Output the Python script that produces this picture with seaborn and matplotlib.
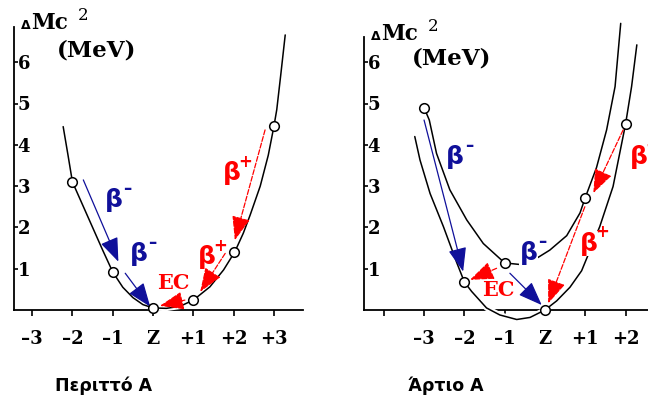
import matplotlib
matplotlib.use("Agg")
import matplotlib.pyplot as plt
import matplotlib.patheffects as pe
import pandas as pd
import seaborn as sns

sns.set_style("white")
plt.rcParams["font.family"] = ["DejaVu Serif", "DejaVu Sans"]
plt.rcParams["font.weight"] = "bold"
plt.rcParams["text.color"] = "black"
plt.rcParams["xtick.color"] = "black"
plt.rcParams["ytick.color"] = "black"
plt.rcParams["axes.labelcolor"] = "black"

# ---------------- data: odd A (left panel) ----------------
odd_z = [-2, -1, 0, 1, 2, 3]
odd_mass = [3.10, 0.92, 0.05, 0.24, 1.40, 4.45]
odd_curve_x = [-2.23, -2.11, -2.0, -1.75, -1.5, -1.25, -1.0, -0.75, -0.5, -0.25, 0.0,
               0.33, 0.67, 1.0, 1.41, 1.75, 2.03, 2.24, 2.41, 2.66, 2.86, 3.0, 3.07, 3.17, 3.28]
odd_curve_y = [4.44, 3.75, 3.10, 2.55, 2.0, 1.45, 0.92, 0.55, 0.30, 0.13, 0.05,
               0.04, 0.09, 0.24, 0.56, 0.97, 1.41, 1.86, 2.30, 3.00, 3.75, 4.45, 4.85, 5.70, 6.66]
odd_ticks = [-3, -2, -1, 0, 1, 2, 3]
odd_ticklabels = ["–3", "–2", "–1", "Z", "+1", "+2", "+3"]
# arrows: start x, start y, tip x, tip y
odd_arrow_x0 = [-1.73, -0.69, 2.78, 1.79, 0.79]
odd_arrow_y0 = [3.15, 0.89, 4.36, 1.37, 0.24]
odd_arrow_x1 = [-0.86, -0.07, 2.03, 1.17, 0.17]
odd_arrow_y1 = [1.17, 0.08, 1.69, 0.44, 0.10]
odd_arrow_kind = ["beta-", "beta-", "beta+", "beta+", "EC"]
odd_label_x = [-0.98, -0.36, 1.95, 1.33, 0.50]
odd_label_y = [2.66, 1.35, 3.31, 1.29, 0.65]

# ---------------- data: even A (right panel) ----------------
even_z = [-3, -2, -1, 0, 1, 2]
even_mass = [4.90, 0.68, 1.14, 0.00, 2.72, 4.50]
oo_curve_x = [-3.0, -2.87, -2.69, -2.36, -1.94, -1.53, -1.0, -0.6, -0.21, 0.12, 0.54,
              0.87, 1.0, 1.28, 1.53, 1.74, 1.88]
oo_curve_y = [4.90, 4.60, 3.79, 2.91, 2.18, 1.61, 1.14, 1.10, 1.25, 1.45, 1.80,
              2.35, 2.72, 3.45, 4.36, 5.41, 6.94]
ee_curve_x = [-3.23, -3.10, -2.85, -2.52, -2.19, -2.0, -1.82, -1.45, -1.12, -0.70, -0.37,
              0.0, 0.29, 0.62, 0.91, 1.36, 1.69, 2.0, 2.15, 2.28]
ee_curve_y = [4.20, 3.63, 2.82, 2.02, 1.15, 0.68, 0.45, 0.05, -0.12, -0.23, -0.18,
              0.0, 0.22, 0.55, 0.95, 2.02, 2.99, 4.50, 5.41, 6.42]
even_ticks = [-4, -3, -2, -1, 0, 1, 2]
even_ticklabels = ["", "–3", "–2", "–1", "Z", "+1", "+2"]
even_arrow_x0 = [-3.0, -0.87, -1.20, 1.94, 0.99]
even_arrow_y0 = [4.60, 0.89, 1.01, 4.36, 2.50]
even_arrow_x1 = [-2.03, -0.08, -1.86, 1.20, 0.08]
even_arrow_y1 = [0.93, 0.12, 0.73, 2.83, 0.16]
even_arrow_kind = ["beta-", "beta-", "EC", "beta+", "beta+"]
even_label_x = [-2.23, -0.41, -1.16, 2.32, 1.08]
even_label_y = [3.71, 1.37, 0.48, 3.71, 1.61]

y_ticks = [1, 2, 3, 4, 5, 6]
y_ticklabels = ["1", "2", "3", "4", "5", "6"]

BLUE = "#10109a"
RED = "#ff0000"

fig = plt.figure(figsize=(6.48, 4.03), dpi=100)
W, H = 648, 403
PX_UNIT = 40.3
PY_UNIT = 41.3
Y0, Y1 = -0.6, 7.0
ax_bottom_px = 310 + (-Y0) * PY_UNIT
ax_top_px = 310 - Y1 * PY_UNIT


def make_axes(left_px, xlo, xhi):
    w_px = (xhi - xlo) * PX_UNIT
    ax = fig.add_axes([left_px / W, (H - ax_bottom_px) / H, w_px / W,
                       (ax_bottom_px - ax_top_px) / H])
    ax.set_xlim(xlo, xhi)
    ax.set_ylim(Y0, Y1)
    ax.patch.set_alpha(0)
    return ax


def draw_panel(ax, curves, mz, mm, ticks, ticklabels, ytop,
               ax0, ay0, ax1, ay1, kinds, lx, ly):
    for cx, cy in curves:
        df = pd.DataFrame({"x": cx, "y": cy})
        sns.lineplot(data=df, x="x", y="y", sort=False, estimator=None, ax=ax,
                     color="black", lw=1.1, zorder=3)
        ax.lines[-1].set_path_effects([pe.Stroke(linewidth=4, foreground="white"), pe.Normal()])
    for k, x0, y0, x1, y1 in zip(kinds, ax0, ay0, ax1, ay1):
        col = BLUE if k == "beta-" else RED
        ls = "-" if k == "beta-" else (0, (4, 1.5))
        ax.annotate("", xy=(x1, y1), xytext=(x0, y0), zorder=5,
                    arrowprops=dict(arrowstyle="-|>,head_length=1.1,head_width=0.42",
                                    mutation_scale=13.5, color=col, lw=0.9, ls=ls,
                                    shrinkA=0, shrinkB=0))
    for k, x, y in zip(kinds, lx, ly):
        if k == "EC":
            ax.text(x, y, "EC", color=RED, fontsize=15, fontweight="bold",
                    ha="center", va="center", zorder=4, family="DejaVu Serif",
                    bbox=dict(facecolor="white", edgecolor="none", pad=0.5))
        else:
            col = BLUE if k == "beta-" else RED
            sup = "–" if k == "beta-" else "+"
            ax.text(x, y, "β", color=col, fontsize=18, fontweight="bold",
                    ha="center", va="center", zorder=4, family="DejaVu Sans",
                    bbox=dict(facecolor="white", edgecolor="none", pad=0.5))
            ax.annotate(sup, xy=(x, y), xytext=(10, 8), textcoords="offset points",
                        color=col, fontsize=12, fontweight="bold", ha="center",
                        va="center", zorder=4, family="DejaVu Sans")
    sns.scatterplot(x=mz, y=mm, ax=ax, s=48, color="white", edgecolor="black",
                    linewidth=1.1, zorder=6)

    for s in ["top", "right"]:
        ax.spines[s].set_visible(False)
    ax.spines["bottom"].set_position(("data", 0))
    ax.spines["left"].set_bounds(0, ytop)
    for s in ["bottom", "left"]:
        ax.spines[s].set_linewidth(1.3)
        ax.spines[s].set_color("black")
        ax.spines[s].set_zorder(2)
    ax.set_xticks(ticks)
    ax.set_xticklabels(ticklabels)
    ax.set_yticks(y_ticks)
    ax.set_yticklabels(y_ticklabels)
    ax.tick_params(axis="x", direction="out", length=4.5, width=1.2, pad=10,
                   labelsize=13, colors="black", bottom=True)
    ax.tick_params(axis="y", direction="in", length=3, width=1.2, pad=-2.5,
                   labelsize=13, colors="black", left=True)
    for lab in ax.get_yticklabels():
        lab.set_horizontalalignment("left")
        lab.set_fontweight("bold")
    for lab in ax.get_xticklabels():
        lab.set_fontweight("bold")
    ax.set_xlabel("")
    ax.set_ylabel("")


def px2data(px, py, zero_px):
    return (px - zero_px) / PX_UNIT, (310 - py) / PY_UNIT


# left panel
axL = make_axes(14, -3.45, 3.72)
draw_panel(axL, [(odd_curve_x, odd_curve_y)], odd_z, odd_mass, odd_ticks, odd_ticklabels, 6.85,
           odd_arrow_x0, odd_arrow_y0, odd_arrow_x1, odd_arrow_y1, odd_arrow_kind,
           odd_label_x, odd_label_y)
# right panel
axR = make_axes(364, -4.49, 2.56)
draw_panel(axR, [(oo_curve_x, oo_curve_y), (ee_curve_x, ee_curve_y)], even_z, even_mass,
           even_ticks, even_ticklabels, 6.6,
           even_arrow_x0, even_arrow_y0, even_arrow_x1, even_arrow_y1, even_arrow_kind,
           even_label_x, even_label_y)

# axis titles
for ax, zero_px, base_py, mev_px, mev_py in [(axL, 153, 29, 97, 50), (axR, 545, 40, 452, 59)]:
    lx = 21 if ax is axL else 371
    x, y = px2data(lx, base_py, zero_px)
    ax.text(x, y, "Δ", fontsize=9, fontweight="bold", ha="left", va="baseline",
            family="DejaVu Sans")
    x, y = px2data(lx + 10, base_py, zero_px)
    ax.text(x, y, "Mc", fontsize=15.5, fontweight="bold", ha="left", va="baseline")
    x, y = px2data(lx + 57, base_py - 9, zero_px)
    ax.text(x, y, "2", fontsize=12, fontweight="normal", ha="left", va="baseline")
    x, y = px2data(mev_px, mev_py, zero_px)
    ax.text(x, y, "(MeV)", fontsize=16.5, fontweight="bold", ha="center", va="center")

fig.text(104 / W, 1 - 386 / H, "Περιττό A", ha="center", va="center",
         family="DejaVu Sans", fontweight="bold", fontsize=12.5)
fig.text(446 / W, 1 - 386 / H, "Άρτιο A", ha="center", va="center",
         family="DejaVu Sans", fontweight="bold", fontsize=12.5)

fig.savefig("out.png", dpi=100)
